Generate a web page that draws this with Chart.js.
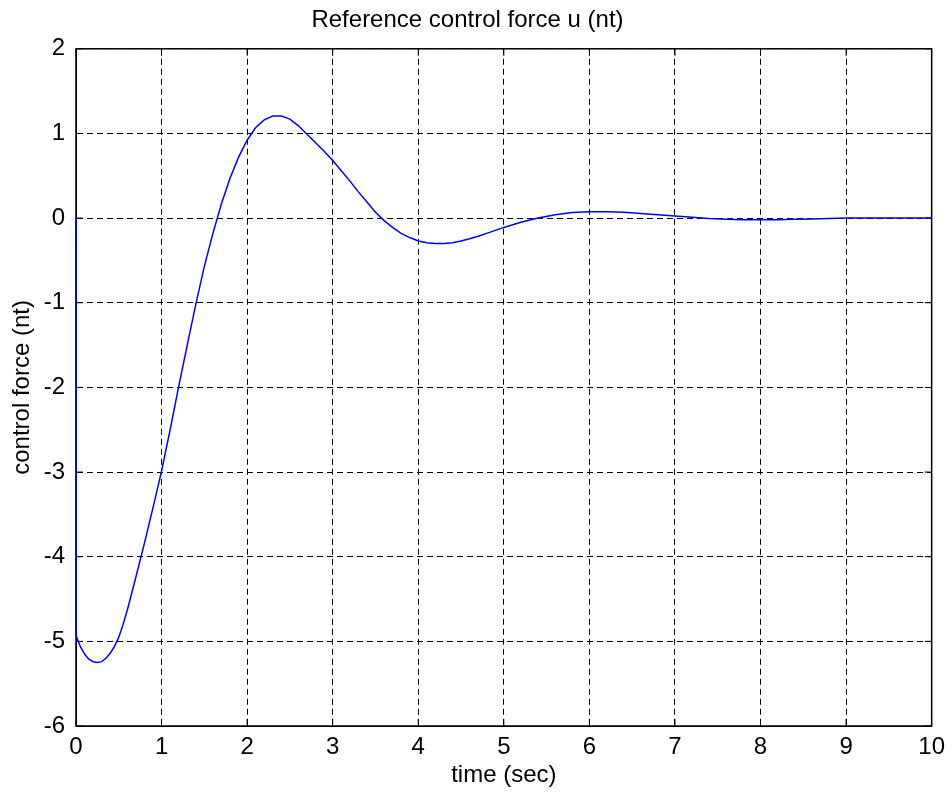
<!DOCTYPE html>
<html>
<head>
<meta charset="utf-8">
<script src="https://cdn.jsdelivr.net/npm/chart.js@4"></script>
<style>
	html, body { margin: 0; padding: 0; background: #fff; }
	#wrap { width: 952px; height: 800px; }
</style>
</head>
<body>
<div id="wrap"><canvas id="force-chart"></canvas></div>
<script>
// values (time in sec, force in nt)
const timeSec = [
	0, 0, 0.05, 0.1, 0.15, 0.2, 0.25, 0.3, 0.35, 0.4, 0.45, 0.5,
	0.55, 0.6, 0.7, 0.8, 0.9, 1.0, 1.1, 1.2, 1.3, 1.4, 1.5,
	1.6, 1.7, 1.8, 1.9, 2.0, 2.1, 2.2, 2.3, 2.4, 2.5,
	2.6, 2.7, 2.8, 2.9, 3.0, 3.1, 3.2, 3.3, 3.4, 3.5,
	3.6, 3.7, 3.8, 3.9, 4.0, 4.1, 4.2, 4.3, 4.4, 4.5,
	4.6, 4.7, 4.8, 4.9, 5.0, 5.2, 5.4, 5.6, 5.8, 6.0,
	6.2, 6.4, 6.6, 6.8, 7.0, 7.2, 7.4, 7.6, 7.8, 8.0,
	8.2, 8.4, 8.6, 8.8, 9.0, 10
];
const controlForce = [
	0, -4.93, -5.06, -5.15, -5.21, -5.24, -5.25, -5.24, -5.2, -5.14, -5.06, -4.95,
	-4.8, -4.63, -4.24, -3.84, -3.42, -2.99, -2.5, -1.99, -1.5, -1.02, -0.57,
	-0.18, 0.17, 0.47, 0.72, 0.92, 1.07, 1.16, 1.205, 1.205, 1.17,
	1.09, 0.99, 0.89, 0.79, 0.68, 0.56, 0.44, 0.31, 0.19, 0.07,
	-0.03, -0.11, -0.18, -0.23, -0.27, -0.29, -0.3, -0.3, -0.29, -0.27,
	-0.245, -0.215, -0.18, -0.145, -0.11, -0.05, 0, 0.04, 0.065, 0.075,
	0.075, 0.07, 0.055, 0.04, 0.025, 0.01, -0.005, -0.015, -0.02, -0.02,
	-0.02, -0.015, -0.01, -0.005, 0, 0
];
const xTicks = [0, 1, 2, 3, 4, 5, 6, 7, 8, 9, 10];
const yTicks = [-6, -5, -4, -3, -2, -1, 0, 1, 2];

(function () {
	const $chart = document.getElementById('force-chart');
	const fontFamily = '"Liberation Sans", Arial, sans-serif';

	// solid box round the plot plus short inner tick marks, like matlab axes.
	// drawn before the line so the blue trace at t=0 stays on top
	const boxPlugin = {
		id: 'box',
		beforeDatasetsDraw(chart) {
			const { ctx, chartArea: a, scales } = chart;
			ctx.save();
			ctx.strokeStyle = '#000';
			ctx.lineWidth = 1.5;
			ctx.setLineDash([]);
			ctx.strokeRect(a.left, a.top, a.right - a.left, a.bottom - a.top);
			ctx.lineWidth = 1;
			ctx.beginPath();
			xTicks.forEach((t) => {
				const px = scales.x.getPixelForValue(t);
				ctx.moveTo(px, a.bottom); ctx.lineTo(px, a.bottom - 7);
				ctx.moveTo(px, a.top); ctx.lineTo(px, a.top + 7);
			});
			yTicks.forEach((t) => {
				const py = scales.y.getPixelForValue(t);
				ctx.moveTo(a.left, py); ctx.lineTo(a.left + 7, py);
				ctx.moveTo(a.right, py); ctx.lineTo(a.right - 7, py);
			});
			ctx.stroke();
			ctx.restore();
		},
	};

	const data = {
		datasets: [
			{
				label: 'u',
				data: timeSec.map((t, i) => ({ x: t, y: controlForce[i] })),
				borderColor: '#0000ff',
				borderWidth: 1.5,
				pointRadius: 0,
				showLine: true,
				fill: false,
				tension: 0,
				clip: 3,
			},
		],
	};

	const config = {
		type: 'scatter',
		data: data,
		options: {
			responsive: true,
			maintainAspectRatio: false,
			animation: false,
			layout: { padding: { right: 17 } },
			scales: {
				x: {
					type: 'linear',
					min: 0,
					max: 10,
					afterFit(scale) { scale.height = 74; },
					afterBuildTicks(scale) { scale.ticks = xTicks.map((v) => ({ value: v })); },
					grid: { color: '#000', lineWidth: 1, drawTicks: false },
					border: { display: true, color: '#000', width: 1, dash: [6, 4] },
					ticks: { color: '#000', padding: 7, maxRotation: 0, font: { family: fontFamily, size: 24 } },
					title: {
						display: true,
						text: 'time (sec)',
						color: '#000',
						padding: { top: 0, bottom: 10 },
						font: { family: fontFamily, size: 24 },
					},
				},
				y: {
					type: 'linear',
					min: -6,
					max: 2,
					afterFit(scale) { scale.width = 76; },
					afterBuildTicks(scale) { scale.ticks = yTicks.map((v) => ({ value: v })); },
					grid: { color: '#000', lineWidth: 1, drawTicks: false },
					border: { display: true, color: '#000', width: 1, dash: [6, 4] },
					ticks: { color: '#000', padding: 11, font: { family: fontFamily, size: 24 } },
					title: {
						display: true,
						text: 'control force (nt)',
						color: '#000',
						padding: { top: 8, bottom: 0 },
						font: { family: fontFamily, size: 24 },
					},
				},
			},
			plugins: {
				legend: { display: false },
				tooltip: { enabled: false },
				title: {
					display: true,
					text: 'Reference control force u (nt)',
					color: '#000',
					font: { family: fontFamily, size: 24, weight: 'normal' },
					padding: { top: 6, bottom: 14 },
				},
			},
		},
		plugins: [boxPlugin],
	};

	const forceChart = new Chart($chart, config);
})();
</script>
</body>
</html>
